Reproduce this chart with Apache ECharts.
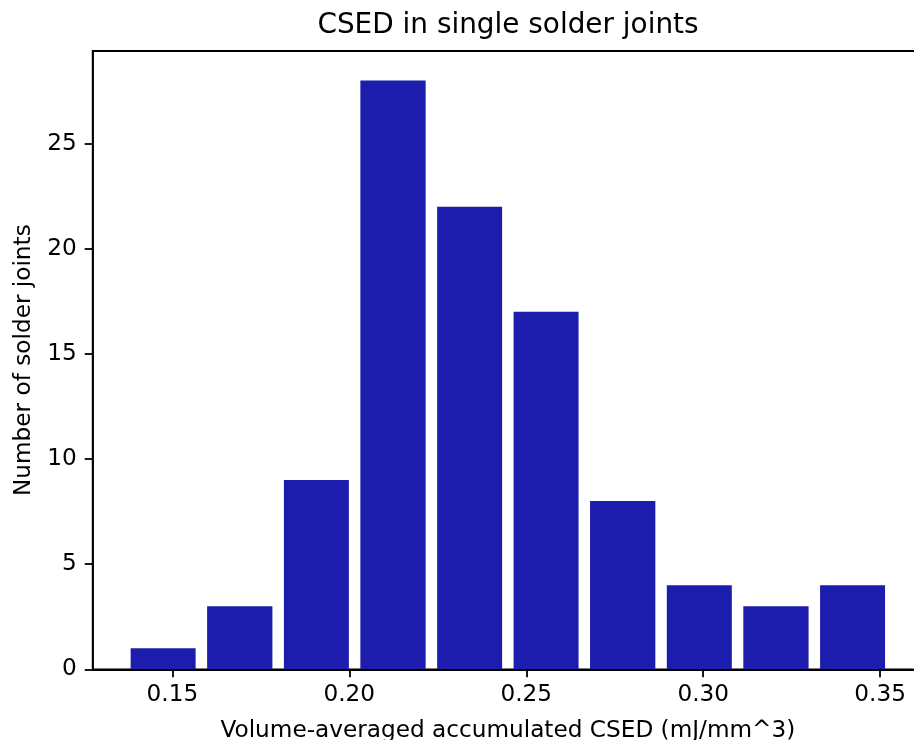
<!DOCTYPE html>
<html>
<head>
<meta charset="utf-8">
<script src="https://cdn.jsdelivr.net/npm/echarts@6/dist/echarts.min.js"></script>
<style>
  html, body { margin: 0; padding: 0; background: #ffffff; }
  #chart { width: 914px; height: 740px; }
</style>
</head>
<body>
<div id="chart"></div>
<script>
// ---- data ----
const binEdges = [0.1366, 0.1582, 0.1799, 0.2015, 0.2232, 0.2448, 0.2664, 0.2881, 0.3097, 0.3314, 0.3530];
const counts = [1, 3, 9, 28, 22, 17, 8, 4, 3, 4];
const xTicks = [0.15, 0.20, 0.25, 0.30, 0.35];
const yTicks = [0, 5, 10, 15, 20, 25];
const titleText = 'CSED in single solder joints';
const xLabel = 'Volume-averaged accumulated CSED (mJ/mm^3)';
const yLabel = 'Number of solder joints';

const barColor = '#1c1cad';
const FONT = 'DejaVu Sans';
const tickFont = 23.2;
const spineW = 1.8;

const chart = echarts.init(document.getElementById('chart'), null, { renderer: 'canvas' });

const histData = counts.map((c, i) => [binEdges[i], binEdges[i + 1], c]);

const option = {
  backgroundColor: '#ffffff',
  animation: false,
  title: {
    text: titleText,
    left: 508,
    top: 12,
    padding: 0,
    textAlign: 'center',
    textStyle: { fontFamily: FONT, fontSize: 27.9, fontWeight: 'normal', color: '#000' }
  },
  grid: {
    left: 92.7,
    right: -9,
    top: 51,
    bottom: 70.7,
    containLabel: false,
    outerBoundsMode: 'none',
    show: true,
    borderColor: '#000',
    borderWidth: spineW,
    backgroundColor: 'transparent'
  },
  xAxis: {
    type: 'value',
    min: 0.1275,
    max: 0.3621,
    z: 10,
    name: xLabel,
    nameLocation: 'middle',
    nameGap: 50,
    nameTextStyle: { fontFamily: FONT, fontSize: tickFont, color: '#000' },
    splitLine: { show: false },
    axisLine: { show: true, onZero: false, lineStyle: { color: '#000', width: spineW } },
    axisTick: {
      show: true, length: 8, inside: false,
      customValues: xTicks,
      lineStyle: { color: '#000', width: spineW }
    },
    axisLabel: {
      show: true, margin: 14,
      customValues: xTicks,
      formatter: v => v.toFixed(2),
      fontFamily: FONT, fontSize: tickFont, color: '#000'
    }
  },
  yAxis: {
    type: 'value',
    min: 0,
    max: 29.4,
    z: 10,
    name: yLabel,
    nameLocation: 'middle',
    nameRotate: 90,
    nameGap: 57,
    nameTextStyle: { fontFamily: FONT, fontSize: tickFont, color: '#000' },
    splitLine: { show: false },
    axisLine: { show: true, onZero: false, lineStyle: { color: '#000', width: spineW } },
    axisTick: {
      show: true, length: 8, inside: false,
      customValues: yTicks,
      lineStyle: { color: '#000', width: spineW }
    },
    axisLabel: {
      show: true, margin: 16,
      customValues: yTicks,
      formatter: v => String(v),
      fontFamily: FONT, fontSize: tickFont, color: '#000'
    }
  },
  series: [{
    type: 'custom',
    data: histData,
    encode: { x: [0, 1], y: 2 },
    clip: false,
    renderItem: function (params, api) {
      const x0 = api.value(0), x1 = api.value(1), c = api.value(2);
      const w = x1 - x0;
      const p0 = api.coord([x0 + w * 0.075, c]);
      const p1 = api.coord([x1 - w * 0.075, 0]);
      return {
        type: 'rect',
        shape: { x: p0[0], y: p0[1], width: p1[0] - p0[0], height: p1[1] - p0[1] },
        style: { fill: barColor }
      };
    }
  }]
};

chart.setOption(option);
</script>
</body>
</html>
